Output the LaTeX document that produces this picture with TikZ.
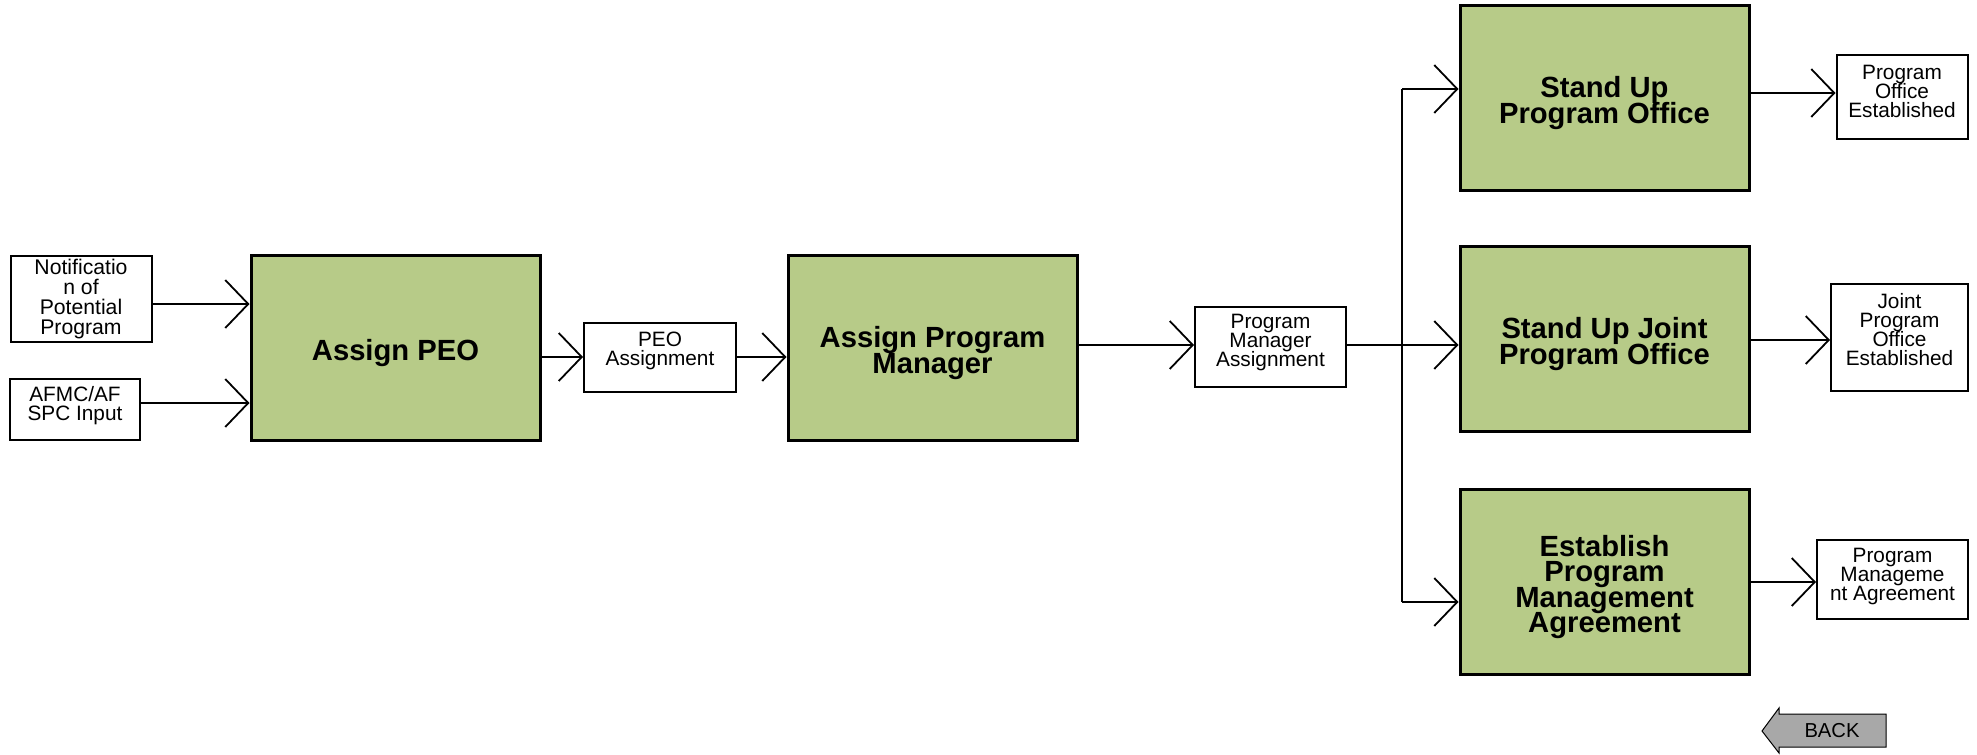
\documentclass[tikz,border=0pt]{standalone}
\usepackage{fontspec}
\setmainfont{Liberation Sans}
\usetikzlibrary{arrows.meta}
\definecolor{boxgreen}{RGB}{183,203,136}
\definecolor{backgray}{RGB}{168,168,168}
\newcommand{\tightlines}{\setlength{\lineskiplimit}{-50pt}}
\newcommand{\lift}{\rule{0pt}{16pt}}
\tikzset{
  stepbox/.style={draw=black,line width=1.5pt,fill=boxgreen,minimum width=144.5pt,minimum height=92.5pt,
    inner sep=0pt,align=center,font=\fontsize{14.6}{12.8}\selectfont\bfseries\tightlines},  % activity box
  docbox/.style={draw=black,line width=1pt,fill=white,inner sep=0pt,align=center,
    font=\fontsize{10.4}{9.5}\selectfont\tightlines},                              % input/output box
  textup/.style={execute at end node={\rule[-#1]{0pt}{#1}}},
  flow/.style={-{Straight Barb[length=11.5pt,width=24pt]},line width=0.9pt},
  bus/.style={line width=0.9pt},
  backarrow/.style={draw=black,line width=0.5pt,fill=backgray},
}

\begin{document}
\begin{tikzpicture}[x=0.5pt,y=-0.5pt]
  \useasboundingbox (0,0) rectangle (1977,755);
  % inputs
  \node[docbox,minimum width=70.5pt,minimum height=43pt,font=\fontsize{10.6}{10.1}\selectfont\tightlines] (notif) at (81,299) {Notificatio\\n of\\Potential\\Program};
  \node[docbox,minimum width=65pt,minimum height=30.5pt,textup=5.2pt] (afmc) at (75,409) {AFMC/AF\\SPC Input};
  % main chain
  \node[stepbox] (peo) at (395.5,347.5) {\lift Assign PEO};
  \node[docbox,minimum width=76pt,minimum height=34.5pt,textup=8.2pt] (peoa) at (660,357) {PEO\\Assignment};
  \node[stepbox] (apm) at (932.5,347.5) {\lift Assign Program\\Manager};
  \node[docbox,minimum width=75.5pt,minimum height=40pt,textup=6.2pt] (pma) at (1270.5,347) {Program\\Manager\\Assignment};
  % branches
  \node[stepbox] (sup) at (1604.5,97.5) {\lift Stand Up\\Program Office};
  \node[stepbox] (sjp) at (1604.5,338.5) {\lift Stand Up Joint\\Program Office};
  \node[stepbox] (epma) at (1604.5,581.5) {\lift Establish\\Program\\Management\\Agreement};
  \node[docbox,minimum width=65.5pt,minimum height=42pt,textup=5.7pt] (poe) at (1902,97) {Program\\Office\\Established};
  \node[docbox,minimum width=68.5pt,minimum height=53.5pt,textup=7.7pt] (jpoe) at (1899.5,337) {Joint\\Program\\Office\\Established};
  \node[docbox,minimum width=75.5pt,minimum height=39.5pt,textup=4.2pt] (pmagr) at (1892.5,579) {Program\\Manageme\\nt Agreement};

  \coordinate (bustop) at (1402,89);
  \coordinate (busbot) at (1402,602);

  \draw[flow] (notif.east |- 0,304) -- (peo.west |- 0,304);
  \draw[flow] (afmc.east |- 0,403) -- (peo.west |- 0,403);
  \draw[flow] (peo.east |- peoa.west) -- (peoa.west);
  \draw[flow] (peoa.east) -- (peoa.east -| apm.west);
  \draw[flow] (apm.east |- 0,345) -- (pma.west |- 0,345);
  \draw[flow] (pma.east |- 0,345) -- (sjp.west |- 0,345);
  \draw[bus] (bustop) -- (busbot);
  \draw[flow] (bustop) -- (sup.west |- bustop);
  \draw[flow] (busbot) -- (epma.west |- busbot);
  \draw[flow] (sup.east |- 0,93) -- (poe.west |- 0,93);
  \draw[flow] (sjp.east |- 0,340) -- (jpoe.west |- 0,340);
  \draw[flow] (epma.east |- 0,582) -- (pmagr.west |- 0,582);

  % back button
  \draw[backarrow] (1762,731) -- (1779,708) -- (1779,714) -- (1886,714) -- (1886,747)
    -- (1779,747) -- (1779,753) -- cycle;
  \node[font=\fontsize{10.1}{12}\selectfont] (back) at (1832,731) {BACK};
\end{tikzpicture}
\end{document}
